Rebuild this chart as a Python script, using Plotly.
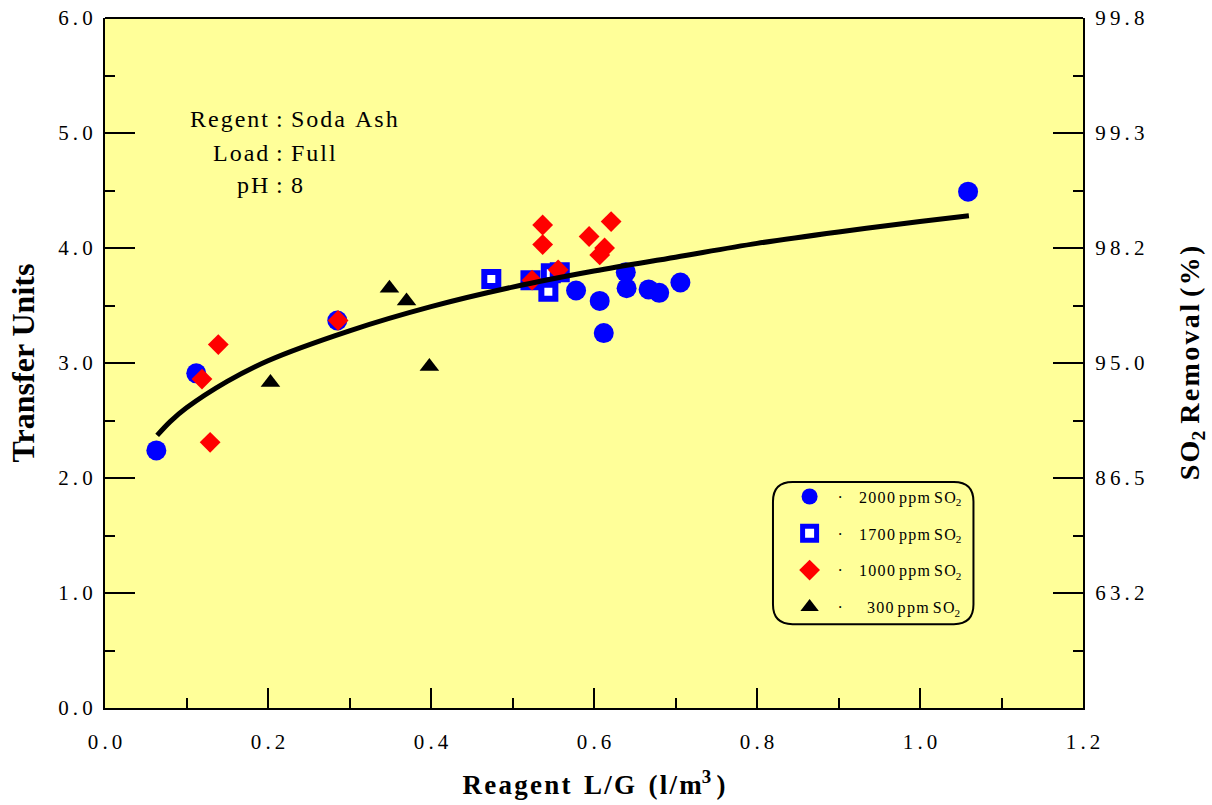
import plotly.graph_objects as go

# ---- data ----
x_2000 = [0.063, 0.112, 0.285, 0.578, 0.607, 0.612, 0.639, 0.640, 0.667, 0.680, 0.706, 1.059]
y_2000 = [2.24, 2.91, 3.37, 3.63, 3.54, 3.26, 3.79, 3.65, 3.64, 3.61, 3.70, 4.49]

x_1700 = [0.474, 0.522, 0.544, 0.547, 0.558]
y_1700 = [3.73, 3.72, 3.62, 3.78, 3.79]

x_1000 = [0.119, 0.129, 0.139, 0.286, 0.537, 0.537, 0.594, 0.621, 0.613, 0.607, 0.556, 0.524]
y_1000 = [2.86, 2.31, 3.16, 3.37, 4.20, 4.03, 4.10, 4.23, 4.00, 3.94, 3.81, 3.72]

x_300 = [0.203, 0.349, 0.370, 0.398]
y_300 = [2.83, 3.65, 3.54, 2.97]

# fitted curve
x_fit = [0.064, 0.08, 0.10, 0.15, 0.20, 0.30, 0.40, 0.50, 0.60, 0.70, 0.80, 0.90, 1.00, 1.06]
y_fit = [2.37, 2.49, 2.61, 2.84, 3.02, 3.28, 3.49, 3.66, 3.80, 3.92, 4.04, 4.14, 4.23, 4.28]

y_ticks = [0, 1, 2, 3, 4, 5, 6]
y_ticktext = ["0.0", "1.0", "2.0", "3.0", "4.0", "5.0", "6.0"]
x_ticks = [0, 0.2, 0.4, 0.6, 0.8, 1.0, 1.2]
x_ticktext = ["0.0", "0.2", "0.4", "0.6", "0.8", "1.0", "1.2"]
right_ticks = [1, 2, 3, 4, 5, 6]
right_ticktext = ["63.2", "86.5", "95.0", "98.2", "99.3", "99.8"]

series_ppm = ["2000", "1700", "1000", "300"]

notes_left = ["Regent", "Load", "pH"]
notes_right = ["Soda Ash", "Full", "8"]
notes_y = [5.12, 4.83, 4.55]

SERIF = "Liberation Serif, Times New Roman, serif"
thin = "\u2009"
hair = "\u200a"


def spaced(s, sp=thin):
    return sp.join(list(s))


def legname(num):
    pad = "    " if len(num) == 4 else "      "
    return ("  ·" + pad + spaced(num, hair) + " " + spaced("ppm", hair) + " "
            + spaced("SO", hair) + "<sub>2</sub>")


names = [legname(n) for n in series_ppm]

fig = go.Figure()

fig.add_trace(go.Scatter(x=x_2000, y=y_2000, mode="markers", name=names[0], legendgroup="a",
                         marker=dict(symbol="circle", size=20, color="#0000FF", line=dict(width=0))))
fig.add_trace(go.Scatter(x=x_1700, y=y_1700, mode="markers", name=names[1], legendgroup="b",
                         marker=dict(symbol="square", size=14, color="white", line=dict(width=6, color="#0000FF"))))
fig.add_trace(go.Scatter(x=x_1000, y=y_1000, mode="markers", name=names[2], legendgroup="c",
                         marker=dict(symbol="diamond", size=16, color="#FF0000", line=dict(width=0))))
fig.add_trace(go.Scatter(x=x_300, y=y_300, mode="markers", name=names[3], legendgroup="d",
                         marker=dict(symbol="triangle-up", size=17, color="black", line=dict(width=0))))
fig.add_trace(go.Scatter(x=x_fit, y=y_fit, mode="lines", showlegend=False,
                         line=dict(color="black", width=5, shape="spline"), hoverinfo="skip"))
# invisible trace to activate right axis
fig.add_trace(go.Scatter(x=[None], y=[None], yaxis="y2", showlegend=False))

note_font = dict(family=SERIF, size=24, color="black")
for lab, val, yy in zip(notes_left, notes_right, notes_y):
    fig.add_annotation(x=0.2025, y=yy, xref="x", yref="y", text=spaced(lab, hair), showarrow=False,
                       xanchor="right", yanchor="middle", font=note_font)
    fig.add_annotation(x=0.2135, y=yy, xref="x", yref="y", text=":", showarrow=False,
                       xanchor="center", yanchor="middle", font=note_font)
    fig.add_annotation(x=0.2255, y=yy, xref="x", yref="y", text=spaced(val, hair), showarrow=False,
                       xanchor="left", yanchor="middle", font=note_font)

# rounded legend frame (paper coords)
x0, x1, y0, y1, r = 0.683, 0.888, 0.1215, 0.3275, 0.02
ry = r * 978 / 690
path = (f"M {x0+r},{y1} L {x1-r},{y1} Q {x1},{y1} {x1},{y1-ry} L {x1},{y0+ry} Q {x1},{y0} {x1-r},{y0} "
        f"L {x0+r},{y0} Q {x0},{y0} {x0},{y0+ry} L {x0},{y1-ry} Q {x0},{y1} {x0+r},{y1} Z")
fig.add_shape(type="path", path=path, xref="paper", yref="paper", line=dict(color="black", width=2),
              fillcolor="rgba(0,0,0,0)")

axis_common = dict(showline=True, linecolor="black", linewidth=2, mirror=False, showgrid=False,
                   zeroline=False, ticks="inside", tickcolor="black", tickwidth=2, automargin=False)

fig.update_layout(
    width=1212, height=805,
    margin=dict(l=105, r=129, t=18, b=97),
    paper_bgcolor="white", plot_bgcolor="#FFFF99",
    font=dict(family=SERIF, color="black"),
    xaxis=dict(range=[0, 1.2], tickvals=x_ticks, ticktext=[spaced(t) for t in x_ticktext], ticklen=20,
               tickfont=dict(size=21), ticklabelstandoff=14,
               minor=dict(dtick=0.1, ticklen=10, ticks="inside", tickcolor="black", tickwidth=2),
               title=dict(text="<b>" + spaced("Reagent", hair) + "  " + spaced("L/G", hair) + "  "
                          + spaced("(l/m", hair) + "<sup>3</sup>" + thin + ")</b>",
                          font=dict(size=27), standoff=22),
               **axis_common),
    yaxis=dict(range=[0, 6], tickvals=y_ticks, ticktext=[spaced(t) for t in y_ticktext], ticklen=30,
               tickfont=dict(size=21), ticklabelstandoff=6,
               minor=dict(dtick=0.5, ticklen=10, ticks="inside", tickcolor="black", tickwidth=2),
               title=dict(text="<b>Transfer Units</b>", font=dict(size=32), standoff=14),
               **axis_common),
    yaxis2=dict(range=[0, 6], overlaying="y", side="right", tickvals=right_ticks,
                ticktext=[spaced(t) for t in right_ticktext], ticklen=30, tickfont=dict(size=21),
                ticklabelstandoff=6,
                minor=dict(dtick=0.5, ticklen=10, ticks="inside", tickcolor="black", tickwidth=2),
                title=dict(text="<b>" + spaced("SO", hair) + "<sub>2</sub> " + spaced("Removal", hair)
                           + " " + spaced("(%)", hair) + "</b>", font=dict(size=28), standoff=36),
                **axis_common),
    legend=dict(x=0.70, y=0.331, xanchor="left", yanchor="top", bgcolor="rgba(0,0,0,0)",
                borderwidth=0, font=dict(size=16), tracegroupgap=13, traceorder="grouped",
                itemwidth=30),
    showlegend=True,
)
# close the top border
fig.add_shape(type="line", xref="paper", yref="paper", x0=0, x1=1, y0=1, y1=1,
              line=dict(color="black", width=2))

fig.write_html("out.html")
